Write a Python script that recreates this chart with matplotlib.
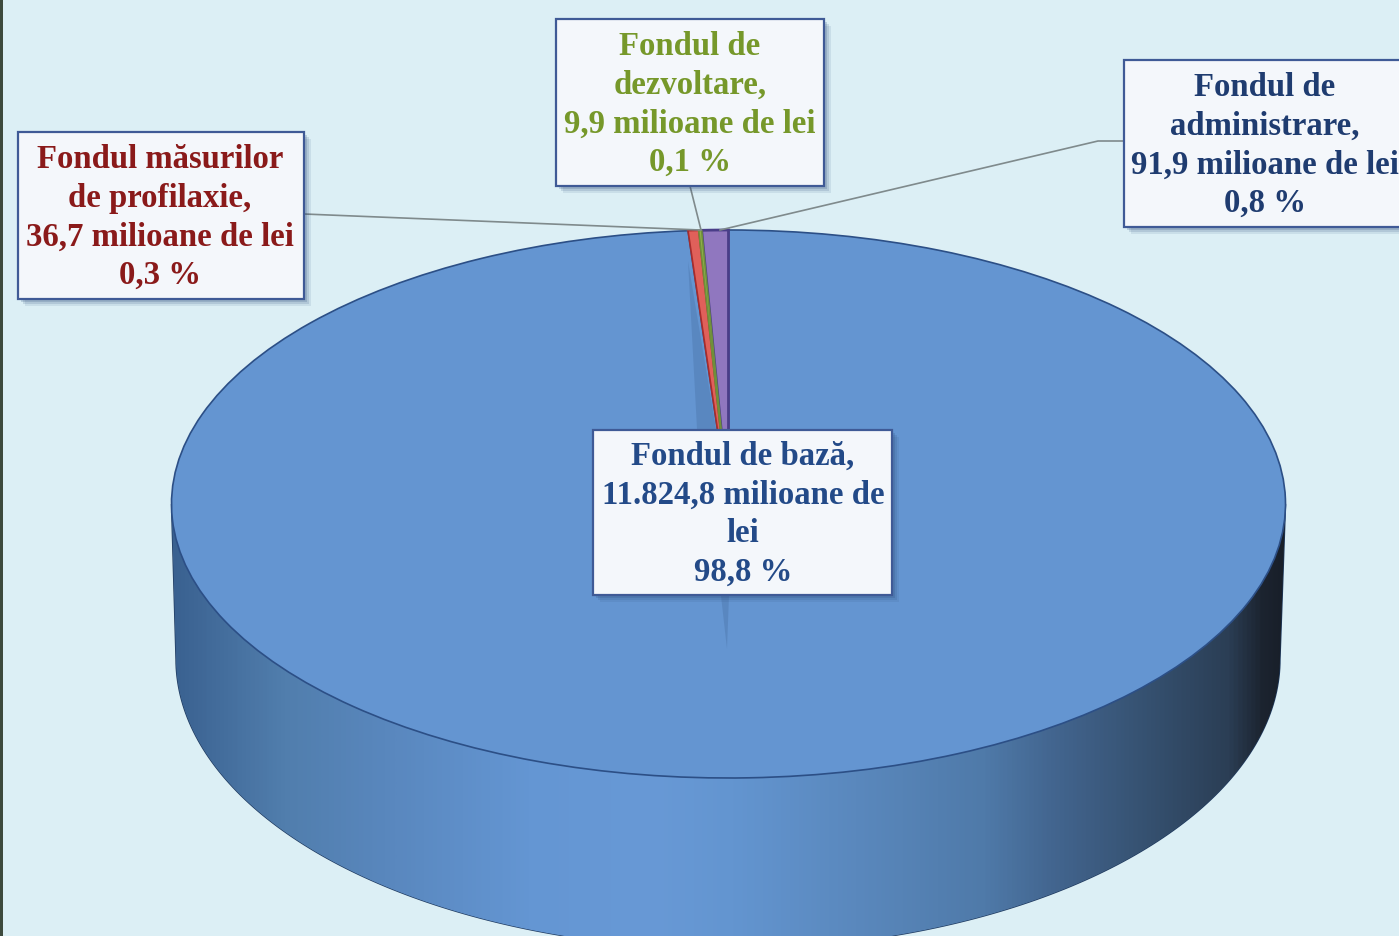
import numpy as np
import matplotlib
matplotlib.use('Agg')
import matplotlib.pyplot as plt
from matplotlib.colors import LinearSegmentedColormap
from matplotlib.patches import Polygon, Rectangle

W, H = 1399, 937

# data, counter clockwise from 12 o'clock
funds = ['administrare', 'dezvoltare', 'profilaxie', 'baza']
values = [91.9, 9.9, 36.7, 11824.8]
colors = ['#9077bf', '#8fb04a', '#e0605a', '#6495d1']
edges = ['#4a3d88', '#6f8f3a', '#a82c2c', '#2c4f86']

labels = ['Fondul de\nadministrare,\n91,9 milioane de lei\n0,8 %',
          'Fondul de\ndezvoltare,\n9,9 milioane de lei\n0,1 %',
          'Fondul măsurilor\nde profilaxie,\n36,7 milioane de lei\n0,3 %',
          'Fondul de bază,\n11.824,8 milioane de\nlei\n98,8 %']
label_colors = ['#1f3c70', '#76982a', '#8a1a1a', '#234a88']

# label boxes in image pixels: left, top, right, bottom
boxes = [(1124, 61, 1410, 228), (556, 20, 824, 187), (18, 133, 304, 300), (593, 431, 892, 596)]
text_x = [1265, 690, 160, 743]
leaders = [([1124, 1098, 720], [142, 142, 231]),
           ([690, 701], [187, 231]),
           ([304, 700], [215, 231])]

# side of the cylinder, colours from left to right
side_stops = [0.0, 0.1, 0.2, 0.32, 0.43, 0.505, 0.615, 0.73, 0.79, 0.88, 0.95, 0.98, 1.0]
side_colors = ['#3a6190', '#517ead', '#5a88bf', '#6496d3', '#6899d6', '#6395d0', '#5a88bd',
               '#4f7aa9', '#436690', '#35506f', '#2b3e55', '#1c2430', '#181f29']

cx, cy, rx, ry = 728.5, 505, 557, 274
cx2, cy2, rx2, ry2 = 728, 660, 552, 290

fig = plt.figure(figsize=(W / 100, H / 100), dpi=100, facecolor='#dceff5')
ax = fig.add_axes([0, 0, 1, 1])
ax.axis('off')

# left border
ax.add_patch(Rectangle((0, 0), 2.5, H, fc='#3d4a3d', ec='none'))

# side
t = np.linspace(0, np.pi, 200)
low_x = cx2 + rx2 * np.cos(t)
low_y = cy2 + ry2 * np.sin(t)
side = Polygon(np.column_stack([np.r_[cx - rx, cx + rx, low_x], np.r_[cy, cy, low_y]]), closed=True,
               fc='none', ec='#1f3a5f', lw=1)
ax.add_patch(side)
side_cmap = LinearSegmentedColormap.from_list('side', list(zip(side_stops, side_colors)))
im = ax.imshow(np.linspace(0, 1, 512)[None, :], cmap=side_cmap, extent=[cx - rx, cx + rx, 960, 480], aspect='auto', zorder=1)
im.set_clip_path(side)
ax.set_xlim(0, W)
ax.set_ylim(H, 0)

# top of the pie in its own axes so that the circle turns into an ellipse
pie_ax = fig.add_axes([(cx - rx) / W, (H - cy - ry) / H, 2 * rx / W, 2 * ry / H], zorder=2)
wedges, _ = pie_ax.pie(values, colors=colors, startangle=90, counterclock=True,
                       wedgeprops={'linewidth': 1.2})
pie_ax.set_aspect('auto')
pie_ax.set_xlim(-1, 1)
pie_ax.set_ylim(-1, 1)
pie_ax.patch.set_alpha(0)
for w, e in zip(wedges, edges):
    w.set_clip_on(False)
    w.set_edgecolor(e)
wedges[0].set_linewidth(2)
wedges[0].set_zorder(3)
wedges[2].set_zorder(3)
wedges[1].set_zorder(4)

# overlay axes for labels
top = fig.add_axes([0, 0, 1, 1], zorder=3)
top.set_xlim(0, W)
top.set_ylim(H, 0)
top.axis('off')

# darker sliver left of the small slices, the part over the wedges is hidden by them
pie_sliver = Polygon([(688, 262), (716, 430), (729, 597), (727, 650), (721, 597), (697, 430)], closed=True,
                     fc='#4a73a8', ec='none', alpha=0.4, zorder=2,
                     transform=top.transData)
pie_ax.add_patch(pie_sliver)

for lx, ly in leaders:
    top.plot(lx, ly, color='#7f8a8c', lw=1.2, zorder=1)

for (l, t_, r, b), x, txt, c in zip(boxes, text_x, labels, label_colors):
    for off, a in [(7, 0.10), (5, 0.15), (3, 0.2)]:
        top.add_patch(Rectangle((l + off, t_ + off), r - l, b - t_, fc='#2b4a78', ec='none', alpha=a, zorder=2))
    top.add_patch(Rectangle((l, t_), r - l, b - t_, fc='#f4f7fb', ec='#3f5a96', lw=1.6, zorder=3))
    top.text(x, (t_ + b) / 2 + 1, txt, color=c, ha='center', va='center', ma='center',
             family='Liberation Serif', weight='bold', fontsize=23.6, linespacing=1.32, zorder=4, clip_on=True)

fig.savefig('out.png', dpi=100, facecolor=fig.get_facecolor())
